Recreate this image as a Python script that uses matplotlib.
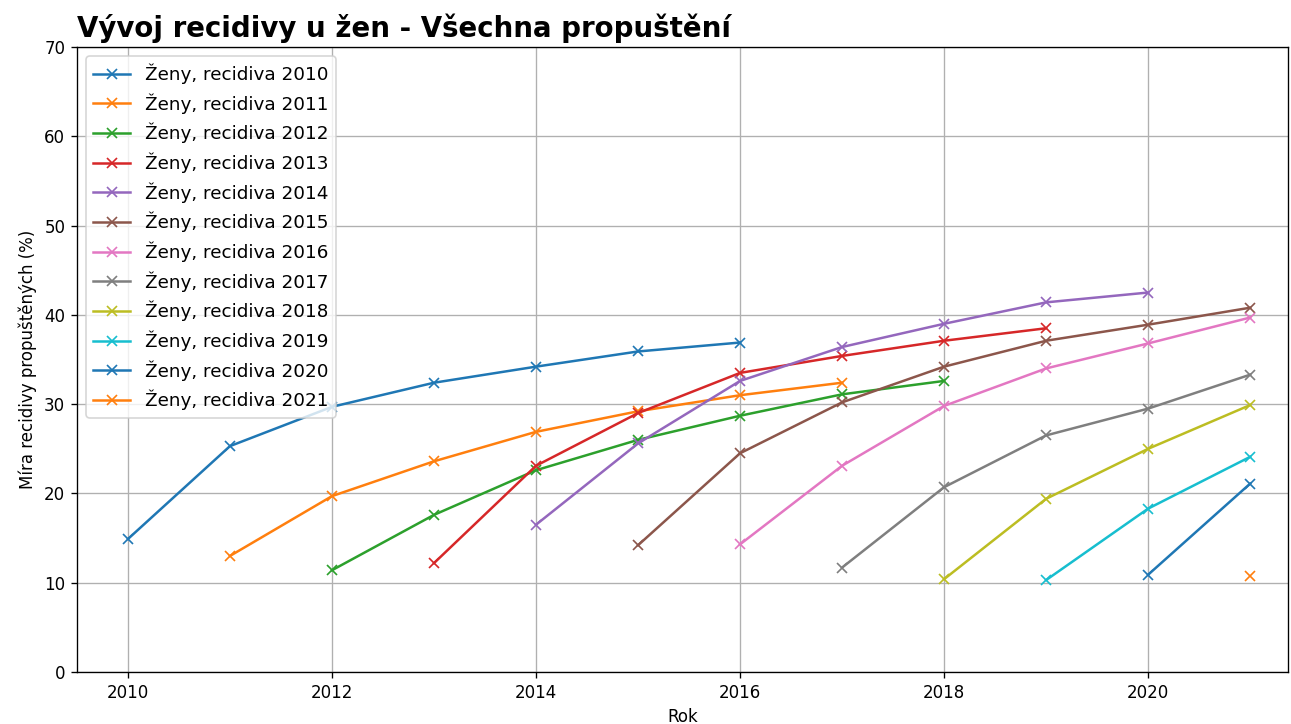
import matplotlib.pyplot as plt

# Hodnoty recidivy (%) podle roku propuštění
roky = [2010, 2011, 2012, 2013, 2014, 2015, 2016, 2017, 2018, 2019, 2020, 2021]

recidiva_2010 = [14.9, 25.3, 29.7, 32.4, 34.2, 35.9, 36.9]
recidiva_2011 = [13.0, 19.7, 23.6, 26.9, 29.2, 31.0, 32.4]
recidiva_2012 = [11.4, 17.6, 22.6, 26.0, 28.7, 31.1, 32.6]
recidiva_2013 = [12.2, 23.1, 29.0, 33.5, 35.4, 37.1, 38.5]
recidiva_2014 = [16.5, 25.6, 32.6, 36.4, 39.0, 41.4, 42.5]
recidiva_2015 = [14.2, 24.5, 30.2, 34.2, 37.1, 38.9, 40.8]
recidiva_2016 = [14.3, 23.1, 29.8, 34.0, 36.8, 39.7]
recidiva_2017 = [11.7, 20.7, 26.5, 29.5, 33.3]
recidiva_2018 = [10.4, 19.4, 25.0, 29.9]
recidiva_2019 = [10.3, 18.3, 24.1]
recidiva_2020 = [10.9, 21.1]
recidiva_2021 = [10.7]

serie = [recidiva_2010, recidiva_2011, recidiva_2012, recidiva_2013,
         recidiva_2014, recidiva_2015, recidiva_2016, recidiva_2017,
         recidiva_2018, recidiva_2019, recidiva_2020, recidiva_2021]

fig = plt.figure(figsize=(1291 / 120, 724 / 120), dpi=120)
ax = fig.add_axes([0.0596, 0.0718, 0.938, 0.8633])

for rok, hodnoty in zip(roky, serie):
    x = list(range(rok, rok + len(hodnoty)))
    ax.plot(x, hodnoty, marker='x', label=f'Ženy, recidiva {rok}')

ax.set_ylim(0, 70)
ax.set_xlim(2009.5, 2021.37)
ax.set_xlabel('Rok')
ax.set_ylabel('Míra recidivy propuštěných (%)')
ax.set_title('Vývoj recidivy u žen - Všechna propuštění', loc='left',
             fontsize=16.6, fontweight='bold')
ax.grid(True)
ax.legend(loc='upper left', fontsize=11)

fig.savefig('out.png', dpi=120)
